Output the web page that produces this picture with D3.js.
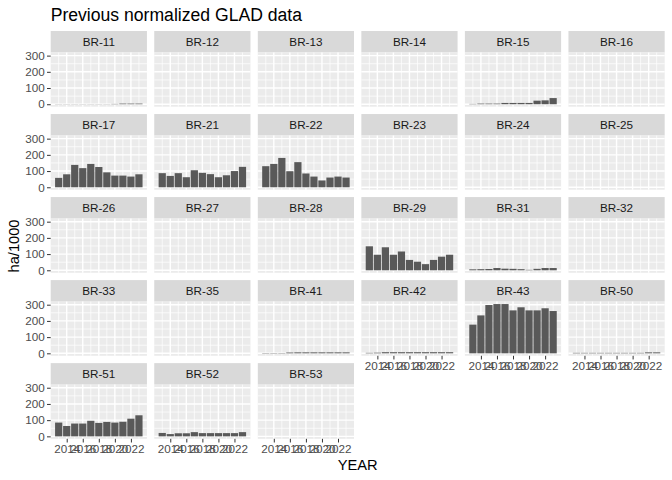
<!DOCTYPE html>
<html>
<head>
<meta charset="utf-8">
<script src="https://cdn.jsdelivr.net/npm/d3@7"></script>
<style>
  body { margin: 0; background: #fff; }
  svg { display: block; font-family: "Liberation Sans", Arial, sans-serif; }
</style>
</head>
<body>
<div id="chart"></div>
<script>
// years and states shown in the facets
const years = [2013, 2014, 2015, 2016, 2017, 2018, 2019, 2020, 2021, 2022, 2023];
const states = ["BR-11", "BR-12", "BR-13", "BR-14", "BR-15", "BR-16",
                "BR-17", "BR-21", "BR-22", "BR-23", "BR-24", "BR-25",
                "BR-26", "BR-27", "BR-28", "BR-29", "BR-31", "BR-32",
                "BR-33", "BR-35", "BR-41", "BR-42", "BR-43", "BR-50",
                "BR-51", "BR-52", "BR-53"];

// ha/1000 per year
const empty = [0, 0, 0, 0, 0, 0, 0, 0, 0, 0, 0];
const br11 = [1, 1, 1, 1, 1, 1, 1, 2, 4, 4, 4];
const br15 = [2, 4, 4, 4, 8, 8, 8, 8, 22, 24, 38];
const br17 = [58, 80, 138, 118, 144, 125, 92, 72, 72, 66, 80];
const br21 = [87, 70, 87, 62, 105, 89, 81, 62, 74, 100, 126];
const br22 = [130, 144, 181, 99, 155, 85, 66, 42, 60, 66, 60];
const br29 = [148, 96, 142, 96, 116, 64, 53, 38, 64, 84, 96];
const br31 = [6, 7, 8, 14, 10, 9, 7, 3, 9, 14, 14];
const br41 = [2, 2, 2, 5, 6, 6, 6, 6, 6, 6, 6];
const br42 = [3, 4, 7, 7, 7, 7, 7, 7, 7, 7, 7];
const br43 = [177, 234, 298, 304, 304, 265, 284, 265, 265, 278, 261];
const br50 = [3, 3, 3, 3, 3, 3, 3, 3, 3, 6, 6];
const br51 = [85, 64, 79, 79, 96, 83, 89, 85, 90, 109, 130];
const br52 = [21, 14, 19, 19, 26, 20, 20, 20, 20, 20, 26];

const series = [br11, empty, empty, empty, br15, empty,
                br17, br21, br22, empty, empty, empty,
                empty, empty, empty, br29, br31, empty,
                empty, empty, br41, br42, br43, br50,
                br51, br52, empty];

const yTicks = [0, 100, 200, 300];
const yMinor = [50, 150, 250];
const xTicks = [2014, 2016, 2018, 2020, 2022];
const xMinor = [2013, 2015, 2017, 2019, 2021, 2023];

const width = 672, height = 480;
const margin = { top: 31, right: 7.33, left: 50.7 };
const ncol = 6, gap = 7.33, stripH = 21.5, panelH = 54.2;
const panelW = (width - margin.left - margin.right - gap * (ncol - 1)) / ncol;
const rowStep = stripH + panelH + gap;

const svg = d3.select("#chart").append("svg")
  .attr("width", width)
  .attr("height", height);

// ggplot style scales: bars of width 0.9, 5% expansion
const xLo = years[0] - 0.45, xHi = years[years.length - 1] + 0.45;
const xPad = (xHi - xLo) * 0.05;
const x = d3.scaleLinear().domain([xLo - xPad, xHi + xPad]).range([0, panelW]);
const yMax = d3.max(series, s => d3.max(s));
const y = d3.scaleLinear().domain([-0.05 * yMax, 1.05 * yMax]).range([panelH, 0]);
const bw = x(0.9) - x(0);

states.forEach((st, i) => {
  const col = i % ncol, row = Math.floor(i / ncol);
  const px = margin.left + col * (panelW + gap);
  const py = margin.top + row * rowStep;
  const vals = series[i];

  const g = svg.append("g").attr("transform", `translate(${px},${py})`);

  // strip
  g.append("rect")
    .attr("width", panelW).attr("height", stripH)
    .attr("fill", "#D9D9D9");
  g.append("text")
    .attr("x", panelW / 2).attr("y", stripH / 2 + 4)
    .attr("text-anchor", "middle")
    .attr("fill", "#1A1A1A")
    .style("font-size", "11.7px")
    .text(st);

  const p = g.append("g").attr("transform", `translate(0,${stripH})`);
  p.append("rect")
    .attr("width", panelW).attr("height", panelH)
    .attr("fill", "#EBEBEB");

  p.selectAll(".ymin").data(yMinor).join("line")
    .attr("x1", 0).attr("x2", panelW)
    .attr("y1", d => y(d)).attr("y2", d => y(d))
    .attr("stroke", "#fff").attr("stroke-width", 0.71);
  p.selectAll(".xmin").data(xMinor).join("line")
    .attr("y1", 0).attr("y2", panelH)
    .attr("x1", d => x(d)).attr("x2", d => x(d))
    .attr("stroke", "#fff").attr("stroke-width", 0.71);
  p.selectAll(".ymaj").data(yTicks).join("line")
    .attr("x1", 0).attr("x2", panelW)
    .attr("y1", d => y(d)).attr("y2", d => y(d))
    .attr("stroke", "#fff").attr("stroke-width", 1.42);
  p.selectAll(".xmaj").data(xTicks).join("line")
    .attr("y1", 0).attr("y2", panelH)
    .attr("x1", d => x(d)).attr("x2", d => x(d))
    .attr("stroke", "#fff").attr("stroke-width", 1.42);

  p.selectAll(".bar").data(vals).join("rect")
    .attr("x", (d, j) => x(years[j]) - bw / 2)
    .attr("width", bw)
    .attr("y", d => y(d))
    .attr("height", d => y(0) - y(d))
    .attr("fill", "#595959");

  if (col === 0) {
    const ax = p.append("g")
      .call(d3.axisLeft(y).tickValues(yTicks).tickSize(3.67).tickPadding(2.2));
    ax.select(".domain").remove();
    ax.selectAll("line").attr("stroke", "#333333");
    ax.selectAll("text").attr("fill", "#4D4D4D").style("font-size", "11.7px")
      .style("font-family", "Liberation Sans, Arial, sans-serif");
  }
  if (i + ncol >= states.length) {
    const ax = p.append("g")
      .attr("transform", `translate(0,${panelH})`)
      .call(d3.axisBottom(x).tickValues(xTicks).tickFormat(d3.format("d")).tickSize(3.67).tickPadding(2.2));
    ax.select(".domain").remove();
    ax.selectAll("line").attr("stroke", "#333333");
    ax.selectAll("text").attr("fill", "#4D4D4D").style("font-size", "11.7px")
      .style("font-family", "Liberation Sans, Arial, sans-serif");
  }
});

svg.append("text")
  .attr("x", margin.left).attr("y", 21)
  .style("font-size", "17.6px")
  .attr("fill", "#000")
  .text("Previous normalized GLAD data");

svg.append("text")
  .attr("x", (margin.left + width - margin.right) / 2).attr("y", 470)
  .attr("text-anchor", "middle")
  .style("font-size", "14.67px")
  .text("YEAR");

svg.append("text")
  .attr("transform", "translate(19,246) rotate(-90)")
  .attr("text-anchor", "middle")
  .style("font-size", "14.67px")
  .text("ha/1000");
</script>
</body>
</html>
